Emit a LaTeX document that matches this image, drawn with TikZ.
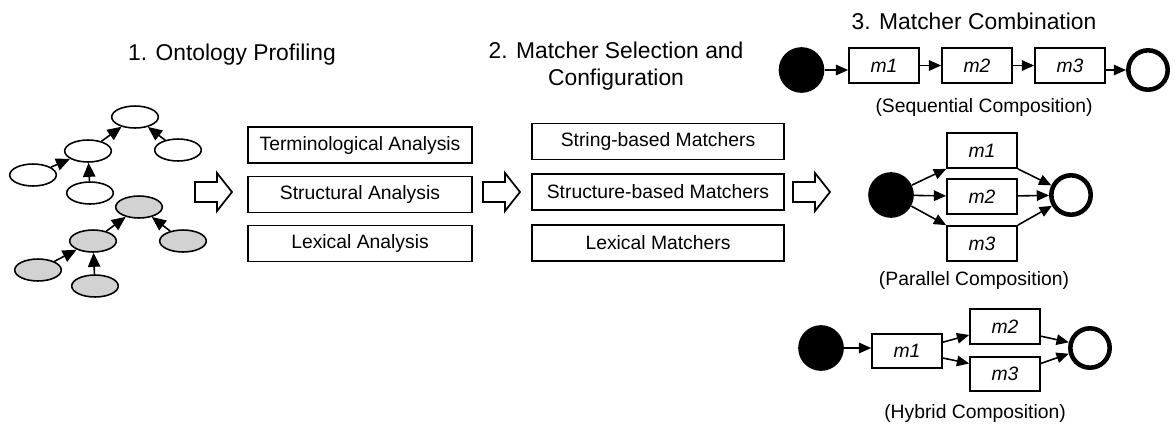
\documentclass[tikz,border=0pt]{standalone}
\usepackage{fontspec}
\setmainfont{Liberation Sans}
\usetikzlibrary{arrows.meta,shapes.geometric}

\begin{document}
\begin{tikzpicture}[x=0.02cm,y=-0.02cm]
    \tikzset{vertex/.style = {shape=ellipse, draw, line width=0.9pt, minimum width=26.5pt, minimum height=12.5pt, inner sep=0pt}}
    \tikzset{grayvertex/.style = {vertex, fill=gray!35}}
    \tikzset{edge/.style = {draw, line width=0.9pt, -{Triangle[length=8pt,width=7pt]}}}
    \tikzset{title/.style = {font=\fontsize{13}{15}\selectfont, align=center}}
    \tikzset{caption/.style = {font=\fontsize{11}{13}\selectfont}}
    \tikzset{phase/.style = {shape=rectangle, draw, line width=1.1pt, minimum height=20.5pt, inner sep=0pt, font=\fontsize{11}{13}\selectfont}}
    \tikzset{matcher/.style = {shape=rectangle, draw, line width=1.1pt, minimum width=39.7pt, minimum height=19.8pt, inner sep=0pt, font=\fontsize{11}{13}\selectfont\itshape}}
    \tikzset{start/.style = {shape=circle, fill=black, minimum size=26pt, inner sep=0pt}}
    \tikzset{stop/.style = {shape=circle, draw, line width=2.6pt, minimum size=22.4pt, inner sep=0pt}}
    \tikzset{flow/.style = {draw, line width=0.9pt, -{Triangle[length=7pt,width=6pt]}}}
    \tikzset{blockarrow/.style = {draw, line width=1pt, fill=white, line join=miter}}

    \useasboundingbox (0,0) rectangle (1175,427);

    % titles
    \node[title] (t1) at (232,55) {1. Ontology Profiling};
    \node[title] (t2) at (616,66) {2. Matcher Selection and\\Configuration};
    \node[title] (t3) at (974,21) {3. Matcher Combination};

    % ontology trees
    \node[vertex] (a1) at (135,117) {};
    \node[vertex] (a2) at (88,151) {};
    \node[vertex] (a3) at (178,150) {};
    \node[vertex] (a4) at (33,175) {};
    \node[vertex] (a5) at (90,193) {};
    \node[grayvertex] (b1) at (139,207) {};
    \node[grayvertex] (b2) at (93,241) {};
    \node[grayvertex] (b3) at (183,241) {};
    \node[grayvertex] (b4) at (38,270) {};
    \node[grayvertex] (b5) at (95,286) {};

    \draw[edge] (a4) to (a2);
    \draw[edge] (a5) to (a2);
    \draw[edge] (a2) to (a1);
    \draw[edge] (a3) to (a1);
    \draw[edge] (b4) to (b2);
    \draw[edge] (b5) to (b2);
    \draw[edge] (b2) to (b1);
    \draw[edge] (b3) to (b1);

    % block arrows
    \foreach \x in {195,483,793}
        \draw[blockarrow] (\x,182) -- ++(22,0) -- ++(0,-9) -- ++(15,19) -- ++(-15,19) -- ++(0,-9) -- ++(-22,0) -- cycle;

    % profiling
    \node[phase, minimum width=127pt] (p1) at (360,145) {Terminological Analysis};
    \node[phase, minimum width=127pt] (p2) at (360,194.5) {Structural Analysis};
    \node[phase, minimum width=127pt] (p3) at (360,243.5) {Lexical Analysis};

    % selection
    \node[phase, minimum width=143pt] (s1) at (658,141.5) {String-based Matchers};
    \node[phase, minimum width=143pt] (s2) at (658,192) {Structure-based Matchers};
    \node[phase, minimum width=143pt] (s3) at (658,243) {Lexical Matchers};

    % sequential composition
    \node[start] (q0) at (801.5,70) {};
    \node[matcher] (q1) at (884,65.5) {m1};
    \node[matcher] (q2) at (977,65.5) {m2};
    \node[matcher] (q3) at (1070,65.5) {m3};
    \node[stop] (q4) at (1148,70) {};
    \node[caption] (qc) at (984,107) {(Sequential Composition)};

    \draw[flow] (q0) -- (q0 -| q1.west);
    \draw[flow] (q1) -- (q2);
    \draw[flow] (q2) -- (q3);
    \draw[flow] (q3.east |- q4) -- (q4);

    % parallel composition
    \node[start] (r0) at (891,195) {};
    \node[matcher] (r1) at (982,150.5) {m1};
    \node[matcher] (r2) at (982,196.5) {m2};
    \node[matcher] (r3) at (982,243.5) {m3};
    \node[stop] (r4) at (1071,195) {};
    \node[caption] (rc) at (974,280) {(Parallel Composition)};

    \draw[flow] (r0) -- (r1.south west);
    \draw[flow] (r0) -- (r2);
    \draw[flow] (r0) -- (r3.north west);
    \draw[flow] (r1.south east) -- (r4);
    \draw[flow] (r2) -- (r4);
    \draw[flow] (r3.north east) -- (r4);

    % hybrid composition
    \node[start] (h0) at (821,348) {};
    \node[matcher] (h1) at (907,351) {m1};
    \node[matcher] (h2) at (1005,326.5) {m2};
    \node[matcher] (h3) at (1005,374) {m3};
    \node[stop] (h4) at (1090,348) {};
    \node[caption] (hc) at (975,413) {(Hybrid Composition)};

    \draw[flow] (h0) -- (h0 -| h1.west);
    \draw[flow] ([yshift=5pt]h1.east) -- ([yshift=-4.8pt]h2.west);
    \draw[flow] ([yshift=-4pt]h1.east) -- ([yshift=6pt]h3.west);
    \draw[flow] ([yshift=-5.5pt]h2.east) -- (h4.165);
    \draw[flow] ([yshift=6pt]h3.east) -- (h4.195);
\end{tikzpicture}
\end{document}
